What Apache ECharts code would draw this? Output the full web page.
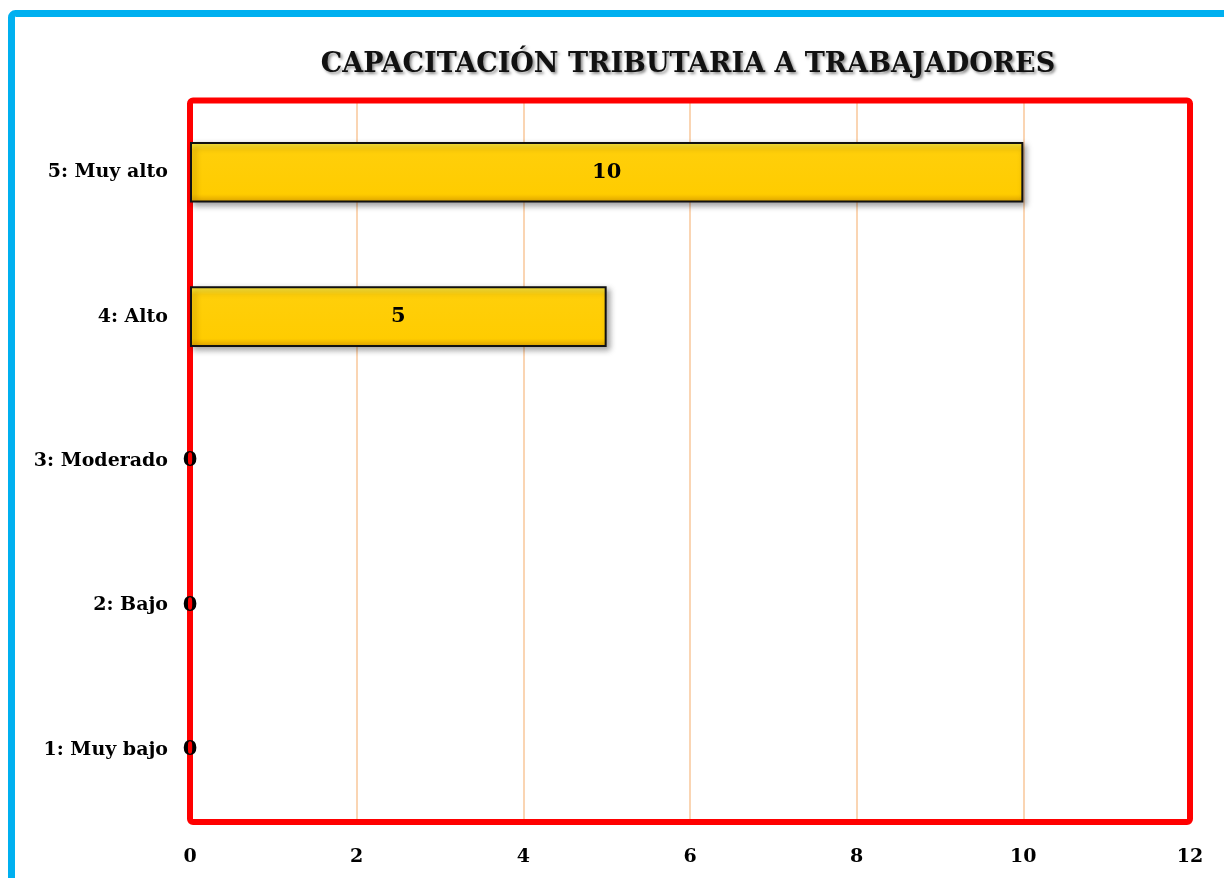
<!DOCTYPE html>
<html style="height: 100%">
<head>
<meta charset="utf-8">
<script src="https://cdn.jsdelivr.net/npm/echarts@6/dist/echarts.min.js"></script>
</head>
<body style="height: 100%; margin: 0; background: #fff;">
<div id="container" style="width: 1224px; height: 878px;"></div>
<script type="text/javascript">
var categories = ['1: Muy bajo', '2: Bajo', '3: Moderado', '4: Alto', '5: Muy alto'];
var values = [0, 0, 0, 5, 10];
var xTicks = { min: 0, max: 12, interval: 2 };

var labelFont = 'DejaVu Serif';
var myChart = echarts.init(document.getElementById('container'));

// zero bars have no visible outline in the original
var barData = values.map(function (v) {
    if (v === 0) {
        return { value: v, itemStyle: { borderWidth: 0, shadowBlur: 0, shadowOffsetX: 0, shadowOffsetY: 0 } };
    }
    return v;
});

var option = {
    backgroundColor: '#ffffff',
    animation: false,
    title: {
        text: 'CAPACITACIÓN TRIBUTARIA A TRABAJADORES',
        left: 683,
        top: 46,
        textAlign: 'center',
        textStyle: {
            fontFamily: labelFont,
            fontWeight: 'bold',
            fontSize: 27,
            color: '#111',
            textShadowColor: 'rgba(0,0,0,0.45)',
            textShadowBlur: 3,
            textShadowOffsetX: 2,
            textShadowOffsetY: 2
        }
    },
    graphic: [{
        // outer frame
        type: 'rect',
        shape: { x: 11.5, y: 13.5, width: 1400, height: 1000, r: 4 },
        style: { fill: 'none', stroke: '#00B0F0', lineWidth: 7 },
        z: 100
    }, {
        // plot area frame
        type: 'rect',
        shape: { x: 190, y: 100.5, width: 1000, height: 721.5, r: 3 },
        style: { fill: 'none', stroke: '#FF0000', lineWidth: 6 },
        z: 1
    }],
    grid: {
        left: 190, right: 34, top: 100, bottom: 56
    },
    xAxis: {
        type: 'value',
        min: xTicks.min, max: xTicks.max, interval: xTicks.interval,
        axisLine: { show: false },
        axisTick: { show: false },
        splitLine: { show: true, lineStyle: { color: '#F9C79A', width: 1.5 } },
        axisLabel: {
            margin: 26,
            fontFamily: labelFont, fontWeight: 'bold', fontSize: 19, color: '#000'
        }
    },
    yAxis: {
        type: 'category',
        data: categories,
        axisLine: { show: false },
        axisTick: { show: false },
        axisLabel: {
            margin: 22,
            fontFamily: labelFont, fontWeight: 'bold', fontSize: 19, color: '#000'
        }
    },
    series: [{
        type: 'bar',
        data: barData,
        barWidth: '42%',
        z: 3,
        itemStyle: {
            color: new echarts.graphic.LinearGradient(0, 0, 0, 1, [
                { offset: 0, color: '#FFF04A' },
                { offset: 0.14, color: '#FFCF0A' },
                { offset: 0.86, color: '#FFCC00' },
                { offset: 1, color: '#E2A600' }
            ]),
            borderColor: '#111',
            borderWidth: 2,
            shadowColor: 'rgba(0,0,0,0.35)',
            shadowBlur: 6,
            shadowOffsetX: 3,
            shadowOffsetY: 3
        },
        label: {
            show: true,
            position: 'inside',
            fontFamily: labelFont, fontWeight: 'bold', fontSize: 21, color: '#000'
        }
    }]
};

myChart.setOption(option);
</script>
</body>
</html>
